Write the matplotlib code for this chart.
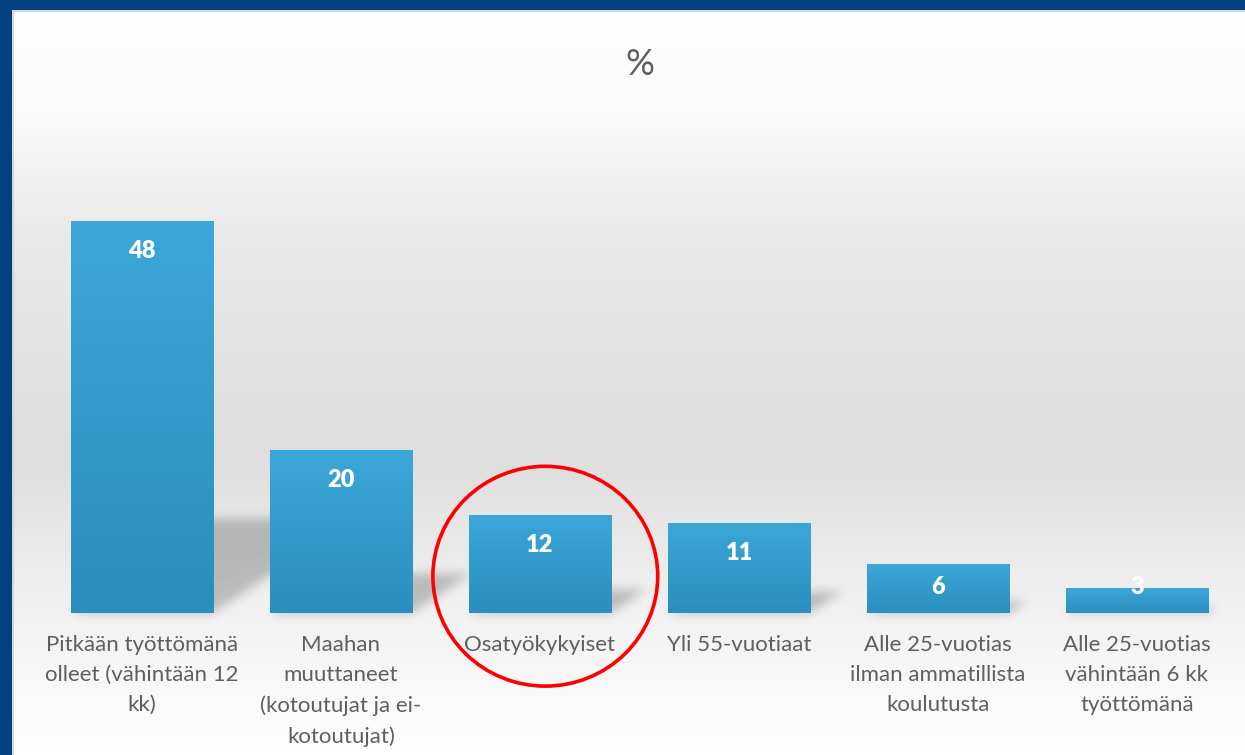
import numpy as np
import matplotlib
matplotlib.use("Agg")
import matplotlib.pyplot as plt
from matplotlib.patches import Rectangle, Polygon, Ellipse
from matplotlib.colors import LinearSegmentedColormap


### DATA
categories = [
    "Pitkään työttömänä\nolleet (vähintään 12\nkk)",
    "Maahan\nmuuttaneet\n(kotoutujat ja ei-\nkotoutujat)",
    "Osatyökykyiset",
    "Yli 55-vuotiaat",
    "Alle 25-vuotias\nilman ammatillista\nkoulutusta",
    "Alle 25-vuotias\nvähintään 6 kk\ntyöttömänä",
]
values = [48, 20, 12, 11, 6, 3]
title = "%"
highlight = 2  # circled category

FONT = "Lato"
TEXT_COL = "#5f5f5f"
BAR_TOP = "#3ba7d8"
BAR_BOTTOM = "#2a8ec0"
BORDER = "#00427f"


### SUPPORT - gaussian blur for the soft shadows
def gauss_blur(a, sigma):
    r = int(3 * sigma)
    k = np.exp(-0.5 * (np.arange(-r, r + 1) / sigma) ** 2)
    k /= k.sum()
    a = np.apply_along_axis(lambda m: np.convolve(m, k, mode="same"), 0, a)
    a = np.apply_along_axis(lambda m: np.convolve(m, k, mode="same"), 1, a)
    return a


def shadow_filter(im, dpi, sigma=5):
    pad = int(3 * sigma)
    out = np.pad(im, ((pad, pad), (pad, pad), (0, 0)))
    out[:, :, 3] = gauss_blur(out[:, :, 3], sigma)
    out[:, :, :3] = 0.0
    return out, -pad, -pad


W, H = 1245, 755
fig = plt.figure(figsize=(W / 100, H / 100), dpi=100)

# Background: vertical grey gradient + dark blue frame
bg = fig.add_axes([0, 0, 1, 1], zorder=-10)
bg_cmap = LinearSegmentedColormap.from_list(
    "bg",
    [(0.0, "#ffffff"), (0.14, "#fafafa"), (0.30, "#e9e9e9"),
     (0.60, "#dedede"), (0.80, "#f1f1f1"), (1.0, "#ffffff")],
)
grad = np.linspace(0, 1, 256).reshape(-1, 1)
bg.imshow(grad, aspect="auto", cmap=bg_cmap, extent=(0, W, H, 10), origin="upper")
bg.set_xlim(0, W)
bg.set_ylim(H, 0)
bg.add_patch(Rectangle((12, 10), W, 2, color="#d6d6d6", lw=0))
bg.add_patch(Rectangle((12, 10), 2, H, color="#d6d6d6", lw=0))
bg.add_patch(Rectangle((0, 0), W, 10, color=BORDER, lw=0))
bg.add_patch(Rectangle((0, 0), 12, H, color=BORDER, lw=0))
bg.axis("off")

fig.text(0.514, 0.914, title, ha="center", va="center", fontsize=26,
         color=TEXT_COL, family=FONT)

### Main chart
ax = fig.add_axes([0.0341, 0.1881, 0.9590, 0.5952])
ax.patch.set_alpha(0)
x = np.arange(len(values))
bar_w = 0.714
bars = ax.bar(x, values, width=bar_w, color=BAR_BOTTOM, zorder=3)

# bar gradients (lighter top)
bar_cmap = LinearSegmentedColormap.from_list("bar", [BAR_BOTTOM, BAR_TOP])
for b in bars:
    x0, y0 = b.get_x(), b.get_y()
    im = ax.imshow(grad, cmap=bar_cmap, aspect="auto", origin="lower",
                   extent=(x0, x0 + b.get_width(), y0, y0 + b.get_height()),
                   zorder=3.5)
    im.set_clip_path(b)

# perspective shadows falling to the right
for xi, v in zip(x, values):
    sh, sk = 0.24 * v, 0.0148 * v
    pts = [(xi - bar_w / 2, 0), (xi + bar_w / 2, 0),
           (xi + bar_w / 2 + sk, sh), (xi - bar_w / 2 + sk, sh)]
    p = Polygon(pts, closed=True, facecolor="black", alpha=0.22, lw=0, zorder=1)
    p.set_agg_filter(shadow_filter)
    ax.add_patch(p)

# value labels inside the bar tops
for xi, v in zip(x, values):
    ax.text(xi, max(v - 3.7, 3.2), str(v), ha="center", va="center",
            fontsize=17, fontweight="heavy", color="white", family=FONT, zorder=5)

ax.set_xlim(-0.5, len(values) - 0.5)
ax.set_ylim(0, 55)
ax.set_xticks(x)
ax.set_xticklabels(categories, fontsize=16, color=TEXT_COL, family=FONT,
                   linespacing=1.62, va="top")
ax.tick_params(axis="x", length=0, pad=16)
ax.set_yticks([])
for s in ax.spines.values():
    s.set_visible(False)

# red circle around the highlighted category
ax.add_patch(Ellipse((highlight + 0.027, 4.5), 1.13, 26.9, fill=False,
                     edgecolor="#ff0000", lw=2.6, clip_on=False, zorder=6))

fig.savefig("out.png", dpi=100)
